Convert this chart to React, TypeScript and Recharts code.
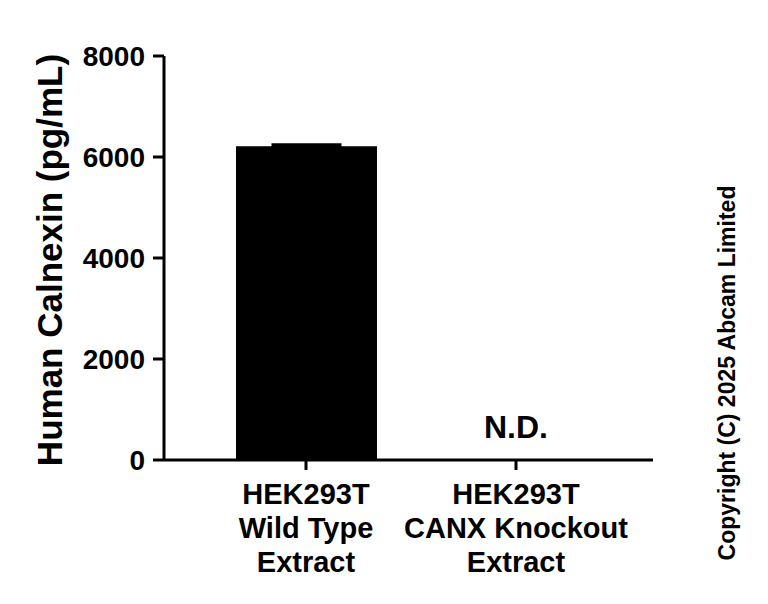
import { BarChart, Bar, XAxis, YAxis, ErrorBar } from "recharts";

const categories = ["HEK293T\nWild Type\nExtract", "HEK293T\nCANX Knockout\nExtract"];
const means = [6215, 0];
const sds = [28, 0];
const notes = ["", "N.D."];
const yTicks = [0, 2000, 4000, 6000, 8000];

const FONT = "'Liberation Sans', Arial, sans-serif";

const data = categories.map((name, i) => ({
  name,
  value: means[i],
  err: sds[i],
}));

function CategoryTick({ x, y, payload, index }: any) {
  const lines = String(payload.value).split("\n");
  const note = notes[index];
  return (
    <g>
      {note ? (
        <text x={x} y={y - 32} textAnchor="middle" fontFamily={FONT} fontWeight={700} fontSize={32} fill="#000">
          {note}
        </text>
      ) : null}
      <text x={x} y={y} textAnchor="middle" fontFamily={FONT} fontWeight={700} fontSize={29} fill="#000">
        {lines.map((l, i) => (
          <tspan key={i} x={x} y={y + 34 + i * 34}>
            {l}
          </tspan>
        ))}
      </text>
    </g>
  );
}

function YTitle({ viewBox }: any) {
  const cy = viewBox.y + viewBox.height / 2 + 2;
  return (
    <text
      x={62}
      y={cy}
      transform={`rotate(-90, 62, ${cy})`}
      textAnchor="middle"
      fontFamily={FONT}
      fontWeight={700}
      fontSize={35}
      fill="#000"
    >
      Human Calnexin (pg/mL)
    </text>
  );
}

export default function App() {
  return (
    <div style={{ position: "absolute", left: 0, top: 0, width: 768, height: 604, background: "#fff" }}>
      <BarChart
        width={768}
        height={604}
        data={data}
        margin={{ top: 56, right: 115, bottom: 34, left: 84 }}
      >
        <XAxis
          dataKey="name"
          height={110}
          padding={{ left: 37, right: 32 }}
          axisLine={{ stroke: "#000", strokeWidth: 3 }}
          tickLine={{ stroke: "#000", strokeWidth: 3 }}
          tickSize={10}
          tickMargin={0}
          tick={<CategoryTick />}
          interval={0}
        />
        <YAxis
          width={80}
          domain={[0, 8000]}
          ticks={yTicks}
          axisLine={{ stroke: "#000", strokeWidth: 3 }}
          tickLine={{ stroke: "#000", strokeWidth: 3 }}
          tickSize={11}
          tickMargin={8}
          tick={{ fill: "#000", fontFamily: FONT, fontWeight: 700, fontSize: 28 }}
          label={YTitle}
        />
        <Bar dataKey="value" fill="#000" barSize={141} isAnimationActive={false}>
          <ErrorBar dataKey="err" width={35} stroke="#000" strokeWidth={3} direction="y" />
        </Bar>
      </BarChart>
      <div
        style={{
          position: "absolute",
          left: 727,
          top: 373,
          transform: "translate(-50%, -50%) rotate(-90deg)",
          whiteSpace: "nowrap",
          fontFamily: FONT,
          fontWeight: 700,
          fontSize: 23,
          color: "#000",
        }}
      >
        Copyright (C) 2025 Abcam Limited
      </div>
    </div>
  );
}
